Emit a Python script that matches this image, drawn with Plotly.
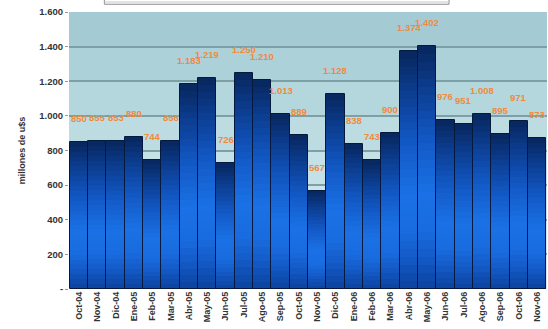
import plotly.graph_objects as go

months = ["Oct-04", "Nov-04", "Dic-04", "Ene-05", "Feb-05", "Mar-05", "Abr-05", "May-05",
          "Jun-05", "Jul-05", "Ago-05", "Sep-05", "Oct-05", "Nov-05", "Dic-05", "Ene-06",
          "Feb-06", "Mar-06", "Abr-06", "May-06", "Jun-06", "Jul-06", "Ago-06", "Sep-06",
          "Oct-06", "Nov-06"]
values = [850, 855, 853, 880, 744, 856, 1183, 1219, 726, 1250, 1210, 1013, 889, 567,
          1128, 838, 743, 900, 1374, 1402, 976, 951, 1008, 895, 971, 873]
tick_vals = [0, 200, 400, 600, 800, 1000, 1200, 1400, 1600]
tick_text = ["-", "200", "400", "600", "800", "1.000", "1.200", "1.400", "1.600"]

def fmt(v):
    return f"{v:,}".replace(",", ".")

# gradient stops: fraction from bar top -> colour
stops = [(0.0, (8, 38, 92)), (0.15, (11, 58, 138)), (0.38, (18, 88, 196)),
         (0.6, (26, 112, 228)), (0.76, (25, 108, 224)), (0.9, (17, 84, 190)),
         (1.0, (12, 66, 156))]

def colour_at(t):
    for (t0, c0), (t1, c1) in zip(stops[:-1], stops[1:]):
        if t0 <= t <= t1:
            f = (t - t0) / (t1 - t0) if t1 > t0 else 0
            c = [round(a + (b - a) * f) for a, b in zip(c0, c1)]
            return "rgb(%d,%d,%d)" % tuple(c)
    return "rgb(%d,%d,%d)" % stops[-1][1]

fig = go.Figure()
N = 30
for k in range(N):
    t = k / N
    fig.add_trace(go.Bar(
        x=months, y=[v * (1 - t) for v in values],
        marker=dict(color=colour_at(t + 0.5 / N), line=dict(width=0)),
        hoverinfo="skip", showlegend=False))
# outline
fig.add_trace(go.Bar(x=months, y=values,
                     marker=dict(color="rgba(0,0,0,0)", line=dict(width=1, color="#05193f")),
                     showlegend=False))

for m, v in zip(months, values):
    fig.add_annotation(x=m, y=v, text="<b>" + fmt(v) + "</b>", showarrow=False,
                       yanchor="bottom", yshift=16,
                       font=dict(family="Liberation Sans", size=9.5, color="#f08a3c"))

# background gradient bands
bands = ["#a4cbd3", "#acd1d8", "#b4d7dd", "#bcdce2", "#c4e1e7", "#cbe6eb", "#d1e9ee", "#d5ebf0"]
n = len(bands)
for i, c in enumerate(bands):
    fig.add_shape(type="rect", xref="paper", yref="paper", x0=0, x1=1,
                  y0=1 - (i + 1) / n, y1=1 - i / n, fillcolor=c, line=dict(width=0),
                  layer="below")

# title box (partially visible at the top)
fig.add_shape(type="rect", xref="paper", yref="paper", x0=0.074, x1=0.795,
              y0=1.028, y1=1.2, fillcolor="#ffffff", line=dict(color="#8a8a8a", width=1))
fig.add_shape(type="line", xref="paper", yref="paper", x0=0.074, x1=0.795,
              y0=1.036, y1=1.036, line=dict(color="#c8c8c8", width=1))

fig.update_layout(
    width=548, height=329,
    margin=dict(l=69, r=1, t=12, b=40),
    barmode="overlay", bargap=0.0,
    paper_bgcolor="#ffffff", plot_bgcolor="rgba(0,0,0,0)",
    font=dict(family="Liberation Sans", color="#333333"),
    xaxis=dict(tickangle=-90, tickmode="array", tickvals=months,
               ticktext=["<b>" + m + "</b>" for m in months],
               tickfont=dict(size=9, color="#333333"),
               showgrid=False, showline=False, ticks=""),
    yaxis=dict(range=[0, 1600], tickvals=tick_vals,
               ticktext=["<b>" + t + "</b>" for t in tick_text],
               tickfont=dict(size=9.5, color="#333333"),
               showgrid=True, gridcolor="#7d9fa5", gridwidth=1.5,
               zeroline=False, ticks="outside", ticklen=3, tickcolor="#999999",
               title=dict(text="<b>millones de u$s</b>", font=dict(size=9, color="#333333"),
                          standoff=12)),
)

fig.write_html("out.html")
